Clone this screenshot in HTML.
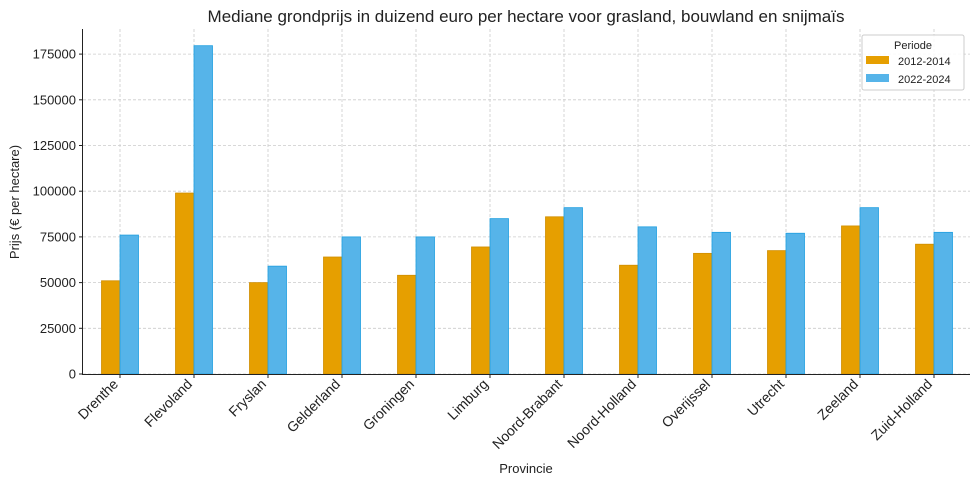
<!DOCTYPE html><html><head><meta charset="utf-8"><style>body{margin:0;background:#fff}svg{display:block;font-family:"Liberation Sans","DejaVu Sans",sans-serif}</style></head><body>
<svg width="978" height="485" xmlns="http://www.w3.org/2000/svg">
<text x="526" y="22" font-size="17" text-anchor="middle" fill="#222">Mediane grondprijs in duizend euro per hectare voor grasland, bouwland en snijmaïs</text>
<g id="g"></g>
<line x1="82.5" y1="29" x2="82.5" y2="374" stroke="#222" stroke-width="1"/>
<line x1="82" y1="374.5" x2="970" y2="374.5" stroke="#222" stroke-width="1"/>
<text transform="translate(19,202) rotate(-90)" font-size="13" text-anchor="middle" fill="#222">Prijs (€ per hectare)</text>
<text x="526" y="473" font-size="13" text-anchor="middle" fill="#222">Provincie</text>
<rect x="862" y="35" width="102" height="55" fill="#fff" fill-opacity="0.85" stroke="#ccc" rx="2"/>
<text x="913" y="49" font-size="11" text-anchor="middle" fill="#222">Periode</text>
<rect x="866" y="56" width="23" height="8" fill="#e69f00"/>
<text x="898" y="65" font-size="11" fill="#222">2012-2014</text>
<rect x="866" y="74" width="23" height="8" fill="#56b4e9"/>
<text x="898" y="83" font-size="11" fill="#222">2022-2024</text>
</svg>
<script>
const names=["Drenthe","Flevoland","Fryslan","Gelderland","Groningen","Limburg","Noord-Brabant","Noord-Holland","Overijssel","Utrecht","Zeeland","Zuid-Holland"];
const a=[51000,99000,50000,64000,54000,69500,86000,59500,66000,67500,81000,71000];
const b=[76000,179600,59000,75000,75000,85000,91000,80500,77500,77000,91000,77500];
const g=document.getElementById('g');let s='';
const Y=v=>374-v/25000*45.7;
for(let i=0;i<=7;i++){const y=Y(i*25000);s+=`<line x1="83" x2="970" y1="${y}" y2="${y}" stroke="#ccc" stroke-dasharray="3,2" stroke-width="0.8"/><line x1="79" x2="82" y1="${y}" y2="${y}" stroke="#222"/><text x="76" y="${y+4.5}" font-size="13" text-anchor="end" fill="#222">${i*25000}</text>`;}
names.forEach((n,i)=>{const c=120+i*74;
s+=`<line x1="${c}" x2="${c}" y1="29" y2="374" stroke="#ccc" stroke-dasharray="3,2" stroke-width="0.8"/><line x1="${c}" x2="${c}" y1="375" y2="378" stroke="#222"/>`;
s+=`<rect x="${c-18.5}" y="${Y(a[i])}" width="18.5" height="${374-Y(a[i])}" fill="#e69f00" stroke="#d08e00" stroke-width="0.8"/>`;
s+=`<rect x="${c}" y="${Y(b[i])}" width="18.5" height="${374-Y(b[i])}" fill="#56b4e9" stroke="#1f9fe0" stroke-width="0.8"/>`;
s+=`<text transform="translate(${c-1},385) rotate(-45)" font-size="14" text-anchor="end" fill="#222">${n}</text>`;});
g.innerHTML=s;
</script>
</body></html>
